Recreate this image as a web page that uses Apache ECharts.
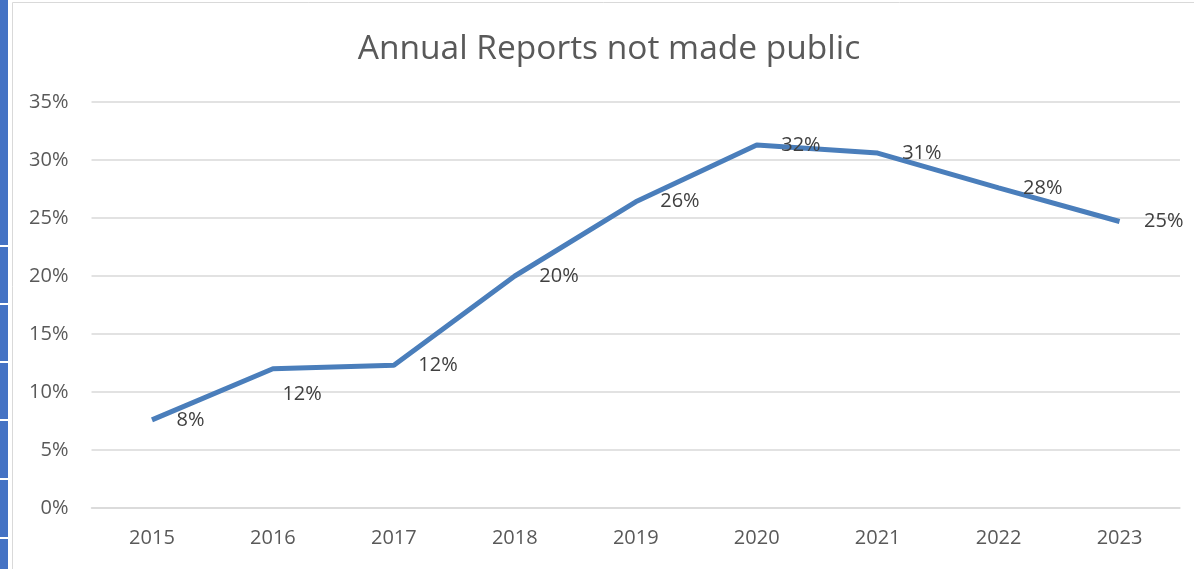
<!DOCTYPE html>
<html><head><meta charset="utf-8">
<script src="https://cdn.jsdelivr.net/npm/echarts@6/dist/echarts.min.js"></script>
<style>html,body{margin:0;padding:0;background:#fff}#c{width:1194px;height:569px}</style>
</head><body><div id="c"></div>
<script>
const categories = ['2015','2016','2017','2018','2019','2020','2021','2022','2023'];
const values = [7.6, 12.0, 12.3, 20.0, 26.4, 31.3, 30.6, 27.6, 24.7];
const labels = ['8%','12%','12%','20%','26%','32%','31%','28%','25%'];
const yTicks = [0,5,10,15,20,25,30,35];

const chart = echarts.init(document.getElementById('c'));
const stripGaps = [245, 303, 361, 419, 478, 537];
const graphics = [{type:'rect', shape:{x:0,y:0,width:8,height:569}, style:{fill:'#4472c4'}, silent:true}];
stripGaps.forEach(g => graphics.push({type:'rect', shape:{x:0,y:g,width:8,height:2}, style:{fill:'#fff'}, silent:true}));
graphics.push({type:'rect', shape:{x:12.5,y:2.5,width:1190,height:580}, style:{fill:'none', stroke:'#d9d9d9', lineWidth:1}, silent:true});

chart.setOption({
  animation:false,
  graphic: graphics,
  title:{text:'Annual Reports not made public', left:604, top:27, textAlign:'center',
    textStyle:{fontFamily:'Open Sans', fontSize:33.5, fontWeight:'normal', color:'#595959'}},
  grid:{left:91.5, right:14, top:102, bottom:61},
  xAxis:{type:'category', data:categories, boundaryGap:true,
    axisLine:{lineStyle:{color:'#d9d9d9', width:1.5}}, axisTick:{show:false},
    axisLabel:{color:'#595959', fontFamily:'Open Sans', fontSize:20, margin:20}},
  yAxis:{type:'value', min:0, max:35, interval:5,
    axisLine:{show:false}, axisTick:{show:false},
    splitLine:{lineStyle:{color:'#d9d9d9', width:1.5}},
    axisLabel:{color:'#595959', fontFamily:'Open Sans', fontSize:20, margin:23,
      formatter: v => yTicks.includes(v) ? v + '%' : ''}},
  series:[{type:'line', data: values.map((v,i)=>(i===1 ? {value:v, label:{position:[10,16], distance:0}} : {value:v})),
    symbol:'circle', symbolSize:1, showSymbol:true, itemStyle:{color:'rgba(0,0,0,0)'},
    lineStyle:{color:'#4a7ebb', width:5},
    labelLayout:{hideOverlap:false},
    label:{show:true, position:'right', distance:24, offset:[0,2], color:'#404040', fontFamily:'Open Sans', fontSize:20,
      formatter: p => labels[p.dataIndex]}}]
});
</script></body></html>
